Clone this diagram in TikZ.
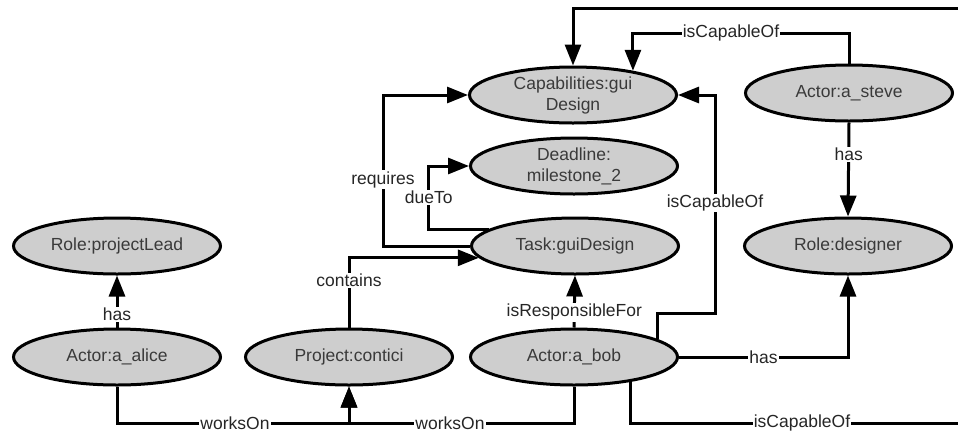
\documentclass[tikz,border=0pt]{standalone}
\usepackage{fontspec}
\setmainfont{Liberation Sans}
\usetikzlibrary{arrows.meta,shapes.geometric}
\tikzset{
    every node/.style={font=\fontsize{17.5}{21}\selectfont},
}
\definecolor{nodofill}{RGB}{206,206,206}
\definecolor{testo}{RGB}{58,58,58}

\begin{document}
\begin{tikzpicture}[x=1pt, y=-1pt,
        ent/.style={ellipse,draw,line width=3pt,fill=nodofill,text=testo,minimum width=207pt,minimum height=56pt,inner sep=0pt,align=center},
        rel/.style={-{Triangle[length=21pt,width=16pt]},line width=3pt},
        lbl/.style={fill=white,inner sep=1pt,text=black!85}
    ]
    \useasboundingbox (0,0) rectangle (958,432);
    \clip (0,0) rectangle (958,432);

    % entita
    \node[ent] (cap) at (573,95) {Capabilities:gui\\Design};
    \node[ent] (dead) at (574,166) {Deadline:\\milestone\_2};
    \node[ent] (task) at (575,246) {Task:guiDesign};
    \node[ent] (steve) at (849,93) {Actor:a\_steve};
    \node[ent] (designer) at (848,246) {Role:designer};
    \node[ent] (plead) at (117,246) {Role:projectLead};
    \node[ent] (alice) at (117,357) {Actor:a\_alice};
    \node[ent] (proj) at (349,357) {Project:contici};
    \node[ent] (bob) at (574,357) {Actor:a\_bob};

    % relazioni di a_alice e del progetto
    \draw[rel] (alice.north) -- node[lbl,pos=0.25] {has} (plead.south);
    \draw[rel] (alice.south) |- (235,423) node[lbl] {worksOn} -| (proj.south);
    \draw[rel] (proj.north) |- node[lbl,pos=0.34] {contains} (task.187);

    % relazioni del task
    \draw[rel] (task.west) -- ++(-87,0) |- node[lbl,pos=0.22] {requires} (cap.west);
    \draw[rel] (task.169) -- ++(-60,0) |- node[lbl,pos=0.25] {dueTo} (dead.west);

    % relazioni di a_bob
    \draw[rel] (bob.south) |- (450,423) node[lbl] {worksOn} -| (proj.south);
    \draw[rel] (bob.north) -- node[lbl,pos=0.29] {isResponsibleFor} (task.south);
    \draw[rel] (bob.12) |- (715,313) -- (715,203) node[lbl] {isCapableOf} |- (cap.east);
    \draw[rel] (bob.east) -| node[lbl,pos=0.25] {has} (designer.south);
    \draw[rel] (bob.-24) |- (802,423) node[lbl] {isCapableOf} -- (975,423) -- (975,8) -| (cap.north); % esce dal bordo

    % relazioni di a_steve
    \draw[rel] (steve.north) |- (731,33) node[lbl] {isCapableOf} -| (cap.22);
    \draw[rel] (steve.south) -- node[lbl,pos=0.34] {has} (designer.north);
\end{tikzpicture}
\end{document}
